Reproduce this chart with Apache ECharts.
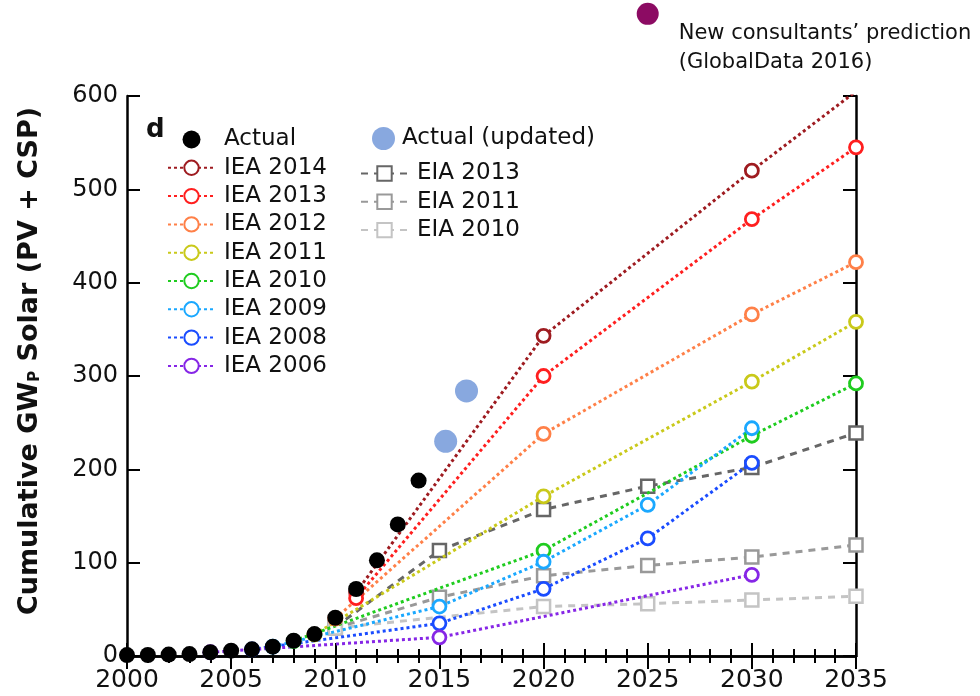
<!DOCTYPE html>
<html>
<head>
<meta charset="utf-8">
<script src="https://cdn.jsdelivr.net/npm/echarts@6/dist/echarts.min.js"></script>
<style>
  html, body { margin: 0; padding: 0; background: #fff; }
  #chart { width: 980px; height: 696px; }
</style>
</head>
<body>
<div id="chart"></div>
<script>
// 实际装机量 (GWp)
const actualYears = [2000, 2001, 2002, 2003, 2004, 2005, 2006, 2007, 2008, 2009, 2010, 2011, 2012, 2013, 2014];
const actualValues = [1, 1.1, 1.5, 2.1, 4, 5.7, 7.1, 10, 16.4, 23.5, 41, 71.8, 102.5, 141, 188];
const actualUpdated = [[2015.3, 230], [2016.3, 284]];
const consultants = [[2025, 688]];

// IEA 预测
const iea2014 = [[2011, 68], [2020, 343], [2030, 520], [2035, 605]];
const iea2013 = [[2011, 62], [2020, 300], [2030, 468], [2035, 545]];
const iea2012 = [[2010, 40], [2020, 238], [2030, 366], [2035, 422]];
const iea2011 = [[2009, 23], [2020, 171], [2030, 294], [2035, 358]];
const iea2010 = [[2008, 16], [2020, 113], [2030, 236], [2035, 292]];
const iea2009 = [[2007, 10], [2015, 53], [2020, 101], [2025, 162], [2030, 244]];
const iea2008 = [[2006, 7], [2015, 35], [2020, 72], [2025, 126], [2030, 207]];
const iea2006 = [[2004, 4], [2015, 20], [2030, 87]];

// EIA 预测
const eia2013 = [[2010, 31], [2015, 113], [2020, 157], [2025, 182], [2030, 202], [2035, 239]];
const eia2011 = [[2010, 30], [2015, 63], [2020, 86], [2025, 97], [2030, 106], [2035, 119]];
const eia2010 = [[2010, 30], [2020, 53], [2025, 56], [2030, 60], [2035, 64]];

const ieaNames = ['IEA 2014', 'IEA 2013', 'IEA 2012', 'IEA 2011', 'IEA 2010', 'IEA 2009', 'IEA 2008', 'IEA 2006'];
const ieaData = [iea2014, iea2013, iea2012, iea2011, iea2010, iea2009, iea2008, iea2006];
const ieaColors = ['#9e1b20', '#ff1f1f', '#ff8048', '#c9c91a', '#1fcc1f', '#1aa8ff', '#1a4cff', '#8626e6'];

const eiaNames = ['EIA 2013', 'EIA 2011', 'EIA 2010'];
const eiaData = [eia2013, eia2011, eia2010];
const eiaColors = ['#666666', '#999999', '#c4c4c4'];

const FONT = 'DejaVu Sans';

const chart = echarts.init(document.getElementById('chart'));

const series = [];
ieaNames.forEach((name, i) => {
  series.push({
    name: name,
    type: 'line',
    data: ieaData[i],
    symbol: 'circle',
    symbolSize: 13,
    color: ieaColors[i],
    lineStyle: { width: 3, type: [3, 3], color: ieaColors[i] },
    itemStyle: { color: '#fff', borderColor: ieaColors[i], borderWidth: 2.8 },
    z: 3
  });
});
eiaNames.forEach((name, i) => {
  series.push({
    name: name,
    type: 'line',
    data: eiaData[i],
    symbol: 'rect',
    symbolSize: 13,
    color: eiaColors[i],
    lineStyle: { width: 3, type: [7, 6], color: eiaColors[i] },
    itemStyle: { color: '#fff', borderColor: eiaColors[i], borderWidth: 2.5 },
    z: 2
  });
});
series.push({
  name: 'Actual',
  type: 'scatter',
  data: actualYears.map((y, i) => [y, actualValues[i]]),
  symbolSize: 16,
  itemStyle: { color: '#000', opacity: 1 },
  z: 6
});
series.push({
  name: 'Actual (updated)',
  type: 'scatter',
  data: actualUpdated,
  symbolSize: 23,
  itemStyle: { color: '#88a8df', opacity: 1 },
  z: 6
});
series.push({
  name: 'consultants',
  type: 'scatter',
  data: consultants,
  symbolSize: 22,
  clip: false,
  itemStyle: { color: '#8c0b63', opacity: 1 },
  label: {
    show: true,
    position: 'right',
    distance: 20,
    offset: [0, 34],
    formatter: 'New consultants’ prediction\n(GlobalData 2016)',
    fontFamily: FONT,
    fontSize: 21,
    lineHeight: 29,
    color: '#111'
  },
  z: 6
});

const axisLine = { show: true, lineStyle: { color: '#000', width: 2.5 } };

const option = {
  animation: false,
  backgroundColor: '#fff',
  title: {
    text: 'd',
    left: 146,
    top: 117,
    padding: 0,
    textStyle: { fontFamily: FONT, fontWeight: 'bold', fontSize: 26, color: '#111' }
  },
  grid: { left: 127, right: 124, top: 96, bottom: 40 },
  legend: [
    {
      data: ['Actual'].concat(ieaNames),
      orient: 'vertical',
      left: 167,
      top: 128,
      padding: 0,
      itemWidth: 47,
      itemHeight: 18,
      itemGap: 5.3,
      selectedMode: false,
      textStyle: { fontFamily: FONT, fontSize: 23, color: '#111', padding: [0, 0, 0, 4] }
    },
    {
      data: ['Actual (updated)'],
      orient: 'vertical',
      left: 372,
      top: 127,
      padding: 0,
      itemWidth: 23,
      itemHeight: 23,
      selectedMode: false,
      textStyle: { fontFamily: FONT, fontSize: 23, color: '#111', padding: [0, 0, 0, 2] }
    },
    {
      data: eiaNames,
      orient: 'vertical',
      left: 360,
      top: 162,
      padding: 0,
      itemWidth: 47,
      itemHeight: 18,
      itemGap: 5.3,
      selectedMode: false,
      textStyle: { fontFamily: FONT, fontSize: 23, color: '#111', padding: [0, 0, 0, 4] }
    }
  ],
  xAxis: [
    {
      type: 'value',
      min: 2000,
      max: 2035,
      interval: 5,
      position: 'bottom',
      axisLine: axisLine,
      axisTick: { inside: true, length: 13, lineStyle: { color: '#000', width: 2 } },
      minorTick: { show: true, splitNumber: 5, length: 7, lineStyle: { color: '#000', width: 2 } },
      splitLine: { show: false },
      axisLabel: {
        margin: 12,
        fontFamily: FONT,
        fontSize: 25,
        color: '#111',
        formatter: v => String(v)
      }
    },
    {
      type: 'value',
      min: 2000,
      max: 2035,
      interval: 5,
      position: 'top',
      axisLine: axisLine,
      axisTick: { inside: true, length: 13, lineStyle: { color: '#000', width: 2 } },
      minorTick: { show: true, splitNumber: 5, length: 7, lineStyle: { color: '#000', width: 2 } },
      splitLine: { show: false },
      axisLabel: { show: false }
    }
  ],
  yAxis: [
    {
      type: 'value',
      min: 0,
      max: 600,
      interval: 100,
      position: 'left',
      axisLine: axisLine,
      axisTick: { inside: true, length: 13, lineStyle: { color: '#000', width: 2 } },
      splitLine: { show: false },
      axisLabel: { margin: 9, fontFamily: FONT, fontSize: 24, color: '#111' },
      name: '{a|Cumulative GW}{sub|P}{a| Solar (PV + CSP)}',
      nameLocation: 'middle',
      nameGap: 84,
      nameTextStyle: {
        padding: [0, 0, 0, 30],
        rich: {
          a: { fontFamily: FONT, fontWeight: 'bold', fontSize: 27, color: '#111' },
          sub: { fontFamily: FONT, fontWeight: 'bold', fontSize: 15, color: '#111', verticalAlign: 'bottom' }
        }
      }
    },
    {
      type: 'value',
      min: 0,
      max: 600,
      interval: 100,
      position: 'right',
      axisLine: axisLine,
      axisTick: { inside: true, length: 13, lineStyle: { color: '#000', width: 2 } },
      splitLine: { show: false },
      axisLabel: { show: false }
    }
  ],
  series: series
};

chart.setOption(option);
</script>
</body>
</html>
